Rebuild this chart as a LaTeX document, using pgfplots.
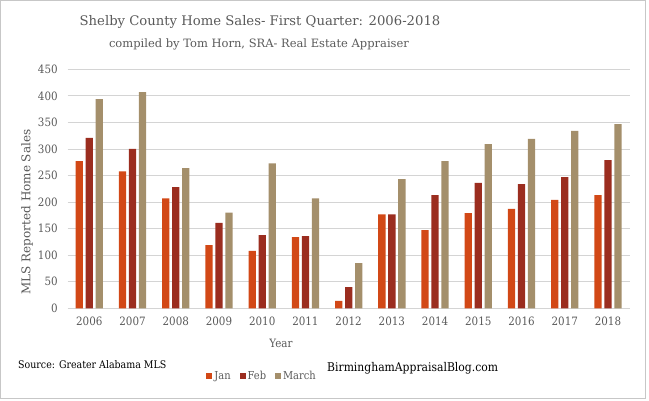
\documentclass[border=0pt]{standalone}
\usepackage{pgfplots}
\pgfplotsset{compat=1.18}
\usepackage{fontspec}
\setmainfont{DejaVu Serif}
\newfontfamily\condfont{DejaVu Serif Condensed}
\definecolor{janc}{RGB}{210,72,22}
\definecolor{febc}{RGB}{155,45,31}
\definecolor{marc}{RGB}{164,143,107}
\definecolor{txtgray}{RGB}{89,89,89}
\begin{document}
\begin{tikzpicture}[x=1pt,y=1pt]
\path[use as bounding box] (0,0) rectangle (649,400);
\draw[black!22, line width=0.8pt] (0.5,1.5) rectangle (645.5,399.5);
\begin{axis}[
  at={(67.7pt,91.7pt)}, anchor=south west,
  scale only axis, width=561.9pt, height=239pt,
  ybar=2.7pt, bar width=7.3pt,
  xmin=-0.5, xmax=12.5, ymin=0, ymax=450,
  ytick={0,50,...,450},
  xtick={0,...,12},
  xticklabels={2006,2007,2008,2009,2010,2011,2012,2013,2014,2015,2016,2017,2018},
  axis line style={draw=none},
  major tick length=0pt,
  ymajorgrids, grid style={draw=black!17, line width=0.8pt},
  tick label style={font=\condfont\fontsize{11.5}{13}\selectfont, text=txtgray},
  /pgf/number format/assume math mode=true,
  yticklabel style={xshift=-6.5pt},
  xticklabel style={yshift=-5.5pt},
  legend style={at={(0.346,-0.283)}, anchor=center, draw=none, fill=none,
    legend columns=3, font=\condfont\fontsize{11}{13}\selectfont, text=txtgray,
    /tikz/every even column/.append style={column sep=7pt},
    /tikz/every odd column/.append style={column sep=0pt}},
  legend image code/.code={\fill[#1] (0pt,-3pt) rectangle (6pt,3pt);},
]
\addplot[fill=janc, draw=none] coordinates {(0,277) (1,258) (2,207) (3,119) (4,108) (5,134) (6,14) (7,177) (8,147) (9,179) (10,187) (11,204) (12,213)};
\addplot[fill=febc, draw=none] coordinates {(0,321) (1,300) (2,228) (3,161) (4,138) (5,136) (6,40) (7,177) (8,213) (9,236) (10,234) (11,247) (12,279)};
\addplot[fill=marc, draw=none] coordinates {(0,394) (1,407) (2,264) (3,180) (4,273) (5,207) (6,85) (7,243) (8,277) (9,309) (10,319) (11,334) (12,347)};
\legend{Jan,Feb,March}
\end{axis}
\node[text=txtgray, font=\fontsize{13.2}{16}\selectfont] at (260,378) {Shelby County Home Sales- First Quarter: 2006-2018};
\node[text=txtgray, font=\fontsize{11.5}{14}\selectfont] at (259,356) {compiled by Tom Horn, SRA- Real Estate Appraiser};
\node[text=txtgray, font=\condfont\fontsize{11.5}{13}\selectfont] at (281,57) {Year};
\node[text=txtgray, rotate=90, font=\fontsize{12}{14}\selectfont] at (27,188) {MLS Reported Home Sales};
\node[anchor=west, text=black, font=\condfont\fontsize{10.5}{12}\selectfont, inner sep=0pt] at (18,35) {Source: Greater Alabama MLS};
\node[anchor=west, text=black, font=\condfont\fontsize{12}{14}\selectfont, inner sep=0pt] at (327,32) {BirminghamAppraisalBlog.com};
\end{tikzpicture}
\end{document}
